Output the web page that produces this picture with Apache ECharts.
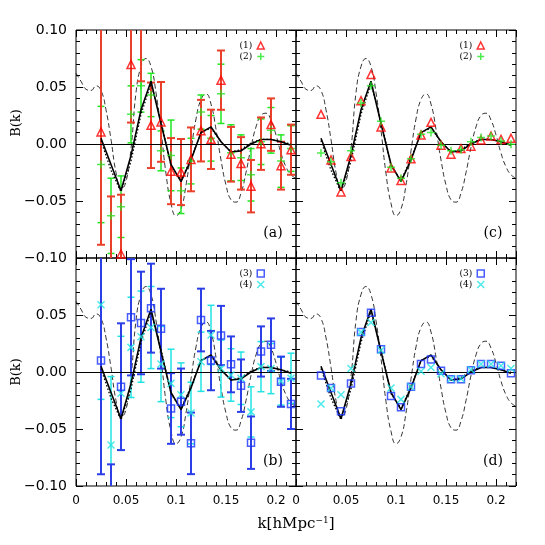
<!DOCTYPE html>
<html><head><meta charset="utf-8">
<script src="https://cdn.jsdelivr.net/npm/echarts/dist/echarts.min.js"></script>
<style>html,body{margin:0;padding:0;background:#fff}#c{width:545px;height:545px}</style>
</head><body><div id="c"></div>
<script>
// ---------- data ----------
const kBins = [0.025,0.035,0.045,0.055,0.065,0.075,0.085,0.095,0.105,0.115,0.125,0.135,0.145,0.155,0.165,0.175,0.185,0.195,0.205,0.215];

const kTheory = [0,0.005,0.01,0.015,0.02,0.025,0.03,0.035,0.04,0.045,0.05,0.055,0.06,0.065,0.07,0.075,0.08,0.085,0.09,0.095,0.1,0.105,0.11,0.115,0.12,0.125,0.13,0.135,0.14,0.145,0.15,0.155,0.16,0.165,0.17,0.175,0.18,0.185,0.19,0.195,0.2,0.205,0.21,0.215,0.22];
const bTheory = [0.062,0.055,0.048,0.047,0.051,0.047,0.030,0.004,-0.025,-0.040,-0.033,-0.004,0.045,0.068,0.075,0.068,0.045,0.012,-0.026,-0.052,-0.063,-0.057,-0.036,-0.006,0.022,0.039,0.044,0.035,0.013,-0.014,-0.036,-0.049,-0.051,-0.043,-0.025,-0.003,0.015,0.025,0.027,0.021,0.008,-0.008,-0.020,-0.027,-0.030];

const bModel    = [0.005,-0.018,-0.041,-0.010,0.030,0.055,0.018,-0.018,-0.033,-0.014,0.010,0.015,0.002,-0.007,-0.006,0.000,0.004,0.004,0.002,-0.001];
const bModelDot = [0.003,-0.023,-0.042,-0.015,0.026,0.053,0.020,-0.019,-0.032,-0.013,0.010,0.014,0.002,-0.007,-0.005,0.001,0.004,0.004,0.002,0.000];

// panel (a)
const a1    = [0.0106,-0.125,-0.0965,0.0698,0.110,0.0164,0.0194,-0.0238,-0.0246,-0.0135,0.0117,0.0041,0.056,-0.009,-0.017,-0.037,0.0003,0.017,-0.019,-0.005];
const a1Err = [0.099,0.079,0.052,0.051,0.055,0.0375,0.035,0.029,0.029,0.028,0.027,0.026,0.026,0.024,0.023,0.023,0.023,0.023,0.021,0.022];
const a2    = [-0.018,-0.063,-0.055,0.026,0.051,0.043,-0.006,-0.010,-0.041,-0.015,0.028,0.005,0.044,-0.0077,-0.012,-0.027,0.002,0.012,-0.015,-0.004];
const a2Err = [0.051,0.033,0.027,0.025,0.023,0.019,0.0175,0.031,0.020,0.020,0.015,0.020,0.026,0.0246,0.020,0.023,0.020,0.020,0.023,0.020];
// panel (c)
const c1 = [0.026,-0.014,-0.042,-0.011,0.038,0.061,0.015,-0.021,-0.032,-0.013,0.008,0.019,-0.001,-0.009,-0.004,-0.002,0.0035,0.007,0.004,0.005];
const c2 = [-0.008,-0.0155,-0.034,-0.006,0.036,0.051,0.020,-0.0205,-0.030,-0.013,0.0085,0.010,-0.001,-0.006,-0.005,0.002,0.0056,0.007,0.0026,-0.0003];
// panel (b)
const b3    = [0.010,-0.150,-0.0129,0.048,0.043,0.056,0.038,-0.032,-0.026,-0.0626,0.0456,0.010,0.032,0.0067,-0.012,-0.062,0.018,0.024,-0.0085,-0.028];
const b3Err = [0.0997,0.069,0.0556,0.051,0.045,0.039,0.035,0.031,0.029,0.027,0.0275,0.026,0.026,0.0245,0.023,0.023,0.022,0.023,0.022,0.022];
const b4    = [0.059,-0.064,-0.0187,0.0216,0.031,0.039,0.007,-0.010,-0.020,-0.036,0.009,0.0325,0.003,-0.0026,-0.0055,-0.035,0.0047,0.003,-0.008,-0.0055];
const b4Err = [0.083,0.060,0.050,0.044,0.040,0.036,0.033,0.030,0.028,0.027,0.026,0.026,0.025,0.023,0.023,0.022,0.022,0.022,0.021,0.022];
// panel (d)
const d3 = [-0.003,-0.014,-0.0345,-0.010,0.035,0.052,0.020,-0.021,-0.031,-0.013,0.007,0.011,0.001,-0.0064,-0.0064,0.0015,0.007,0.007,0.0055,-0.001];
const d4 = [-0.028,-0.014,-0.020,0.003,0.035,0.0435,0.019,-0.014,-0.024,-0.013,0.0006,0.004,-0.0015,-0.006,-0.006,0.002,0.007,0.007,0.0055,0.003];

const panelLabels = ['(a)','(c)','(b)','(d)'];
const legendNames = [['(1)','(2)'],['(1)','(2)'],['(3)','(4)'],['(3)','(4)']];

// ---------- layout / style ----------
const GL = [76,296,76,296], GT = [30,30,258,258], GW = 220, GH = 228;
const SERIF = '"DejaVu Serif", serif';
const SANS = '"DejaVu Sans", sans-serif';
const RED = '#ff0000', REDBAR = '#e8402a', GREEN = '#22e622', BLUE = '#1a35ff', BLUEBAR = '#2c3fe6', CYAN = '#22e3e3';
const PLUS = 'path://M5,0V10M0,5H10';
const CROSS = 'path://M0,0L10,10M0,10L10,0';

const grids = [], xAxes = [], yAxes = [], series = [], legends = [], graphics = [];

function fmtX(v){ if (v > 0.21) return ''; return v === 0 ? '0' : String(+v.toFixed(2)); }
function fmtY(v){ return v.toFixed(2).replace('-', '\u2212'); }

for (let g = 0; g < 4; g++) {
  grids.push({left: GL[g], top: GT[g], width: GW, height: GH, show: true, borderColor: '#000', borderWidth: 1, backgroundColor: 'transparent'});
  const bottomPanel = g >= 2;
  // x axes: bottom minor, bottom major, top minor, top major
  [['bottom',0.01,4,false],['bottom',0.05,7,bottomPanel],['top',0.01,4,false],['top',0.05,7,false]].forEach(([pos,iv,len,lab]) => {
    xAxes.push({type:'value', gridIndex:g, position:pos, min:0, max:0.22, interval:iv,
      axisLine:{show:false, onZero:false}, splitLine:{show:false},
      axisTick:{show:true, inside:true, length:len, lineStyle:{color:'#000', width:1}},
      axisLabel: lab ? {show:true, margin:9, fontFamily:SANS, fontSize:12, color:'#000', formatter: fmtX, showMaxLabel:false} : {show:false}});
  });
  // y axes: left, right
  ['left','right'].forEach(pos => {
    const lab = (pos === 'left' && (g === 0 || g === 2));
    yAxes.push({type:'value', gridIndex:g, position:pos, min:-0.1, max:0.1, interval:0.05,
      axisLine:{show:false, onZero:false}, splitLine:{show:false},
      axisTick:{show:true, inside:true, length:7, lineStyle:{color:'#000', width:1}},
      minorTick:{show:true, splitNumber:5, length:4, lineStyle:{color:'#000', width:1}},
      minorSplitLine:{show:false},
      axisLabel: lab ? {show:true, margin:9, fontFamily:SANS, fontSize:14, color:'#000', formatter: fmtY, showMaxLabel: g === 0} : {show:false}});
  });
}

function pairs(ks, vs){ return ks.map((k,i) => [k, vs[i]]); }

function errSeries(g, vals, errs, color, width, hw, z){
  return {type:'custom', xAxisIndex:4*g, yAxisIndex:2*g, clip:true, z:z, silent:true,
    data: kBins.map((k,i) => [k, vals[i], errs[i]]),
    encode:{x:0, y:1},
    renderItem: function(params, api){
      const k = api.value(0), v = api.value(1), e = api.value(2);
      const p1 = api.coord([k, v + e]), p2 = api.coord([k, v - e]);
      const st = {stroke: color, lineWidth: width};
      return {type:'group', children:[
        {type:'line', shape:{x1:p1[0], y1:p1[1], x2:p2[0], y2:p2[1]}, style:st},
        {type:'line', shape:{x1:p1[0]-hw, y1:p1[1], x2:p1[0]+hw, y2:p1[1]}, style:st},
        {type:'line', shape:{x1:p2[0]-hw, y1:p2[1], x2:p2[0]+hw, y2:p2[1]}, style:st}
      ]};
    }};
}

function markSeries(g, name, vals, symbol, size, color, z){
  return {type:'scatter', name:name, xAxisIndex:4*g, yAxisIndex:2*g, clip:true, z:z, silent:true,
    data: pairs(kBins, vals), symbol:symbol, symbolSize:size,
    itemStyle:{color:'rgba(0,0,0,0)', borderColor:color, borderWidth:1.5}};
}

for (let g = 0; g < 4; g++) {
  // theory (dashed)
  series.push({type:'line', xAxisIndex:4*g, yAxisIndex:2*g, data: pairs(kTheory, bTheory), smooth:0.5, showSymbol:false, symbol:'none', clip:true, z:2, silent:true,
    lineStyle:{color:'#000', width:0.8, type:[5,3]}});
  // model dotted
  series.push({type:'line', xAxisIndex:4*g, yAxisIndex:2*g, data: pairs(kBins, bModelDot), showSymbol:false, symbol:'none', clip:true, z:5, silent:true,
    lineStyle:{color:'#000', width:1.3, type:[1.5,2]}});
  // model solid with zero line
  series.push({type:'line', xAxisIndex:4*g, yAxisIndex:2*g, data: pairs(kBins, bModel), showSymbol:false, symbol:'none', clip:true, z:5, silent:true,
    lineStyle:{color:'#000', width:1.6},
    markLine:{silent:true, symbol:['none','none'], label:{show:false}, animation:false,
      lineStyle:{color:'#000', width:1, type:'solid'}, data:[{yAxis:0}]}});
}

// panel a
series.push(errSeries(0, a2, a2Err, GREEN, 1.5, 3.5, 3));
series.push(errSeries(0, a1, a1Err, REDBAR, 2, 4, 4));
series.push(markSeries(0, '(2)', a2, PLUS, 8, GREEN, 6));
series.push(markSeries(0, '(1)', a1, 'triangle', 8, RED, 7));
// panel c
series.push(markSeries(1, '(1)', c1, 'triangle', 8, RED, 6));
series.push(markSeries(1, '(2)', c2, PLUS, 8, GREEN, 7));
// panel b
series.push(errSeries(2, b4, b4Err, CYAN, 1.5, 3.5, 3));
series.push(errSeries(2, b3, b3Err, BLUEBAR, 2, 4, 4));
series.push(markSeries(2, '(4)', b4, CROSS, 7, CYAN, 6));
series.push(markSeries(2, '(3)', b3, 'rect', 7, BLUE, 7));
// panel d
series.push(markSeries(3, '(3)', d3, 'rect', 7, BLUE, 6));
series.push(markSeries(3, '(4)', d4, CROSS, 7, CYAN, 7));

for (let g = 0; g < 4; g++) {
  legends.push({data: legendNames[g], orient:'vertical', align:'right', right: 545 - (GL[g] + GW - 31), top: GT[g] + 11,
    itemWidth:7, itemHeight:7, itemGap:2, padding:0, selectedMode:false,
    itemStyle:{borderWidth:1.5},
    textStyle:{fontFamily:SERIF, fontSize:9, color:'#000'}});
  graphics.push({type:'text', x: GL[g] + GW - 23, y: GT[g] + GH - 25, silent:true,
    style:{text: panelLabels[g], font: '14px ' + SERIF, fill:'#000', align:'center', verticalAlign:'middle'}});
}
graphics.push({type:'text', x:17, y:123, rotation:Math.PI/2, silent:true,
  style:{text:'B(k)', font:'13px ' + SERIF, fill:'#000', align:'center', verticalAlign:'middle'}});
graphics.push({type:'text', x:17, y:372, rotation:Math.PI/2, silent:true,
  style:{text:'B(k)', font:'13px ' + SERIF, fill:'#000', align:'center', verticalAlign:'middle'}});
graphics.push({type:'text', x:296, y:524, silent:true,
  style:{text:'k[hMpc{s|\u22121}]', font:'15px ' + SERIF, fill:'#000', align:'center', verticalAlign:'middle',
    rich:{s:{fontSize:9, fontFamily:SERIF, verticalAlign:'top', padding:[0,0,7,0]}}}});

const chart = echarts.init(document.getElementById('c'), null, {renderer:'canvas'});
chart.setOption({animation:false, backgroundColor:'#fff', grid:grids, xAxis:xAxes, yAxis:yAxes, series:series, legend:legends, graphic:graphics});
</script></body></html>
